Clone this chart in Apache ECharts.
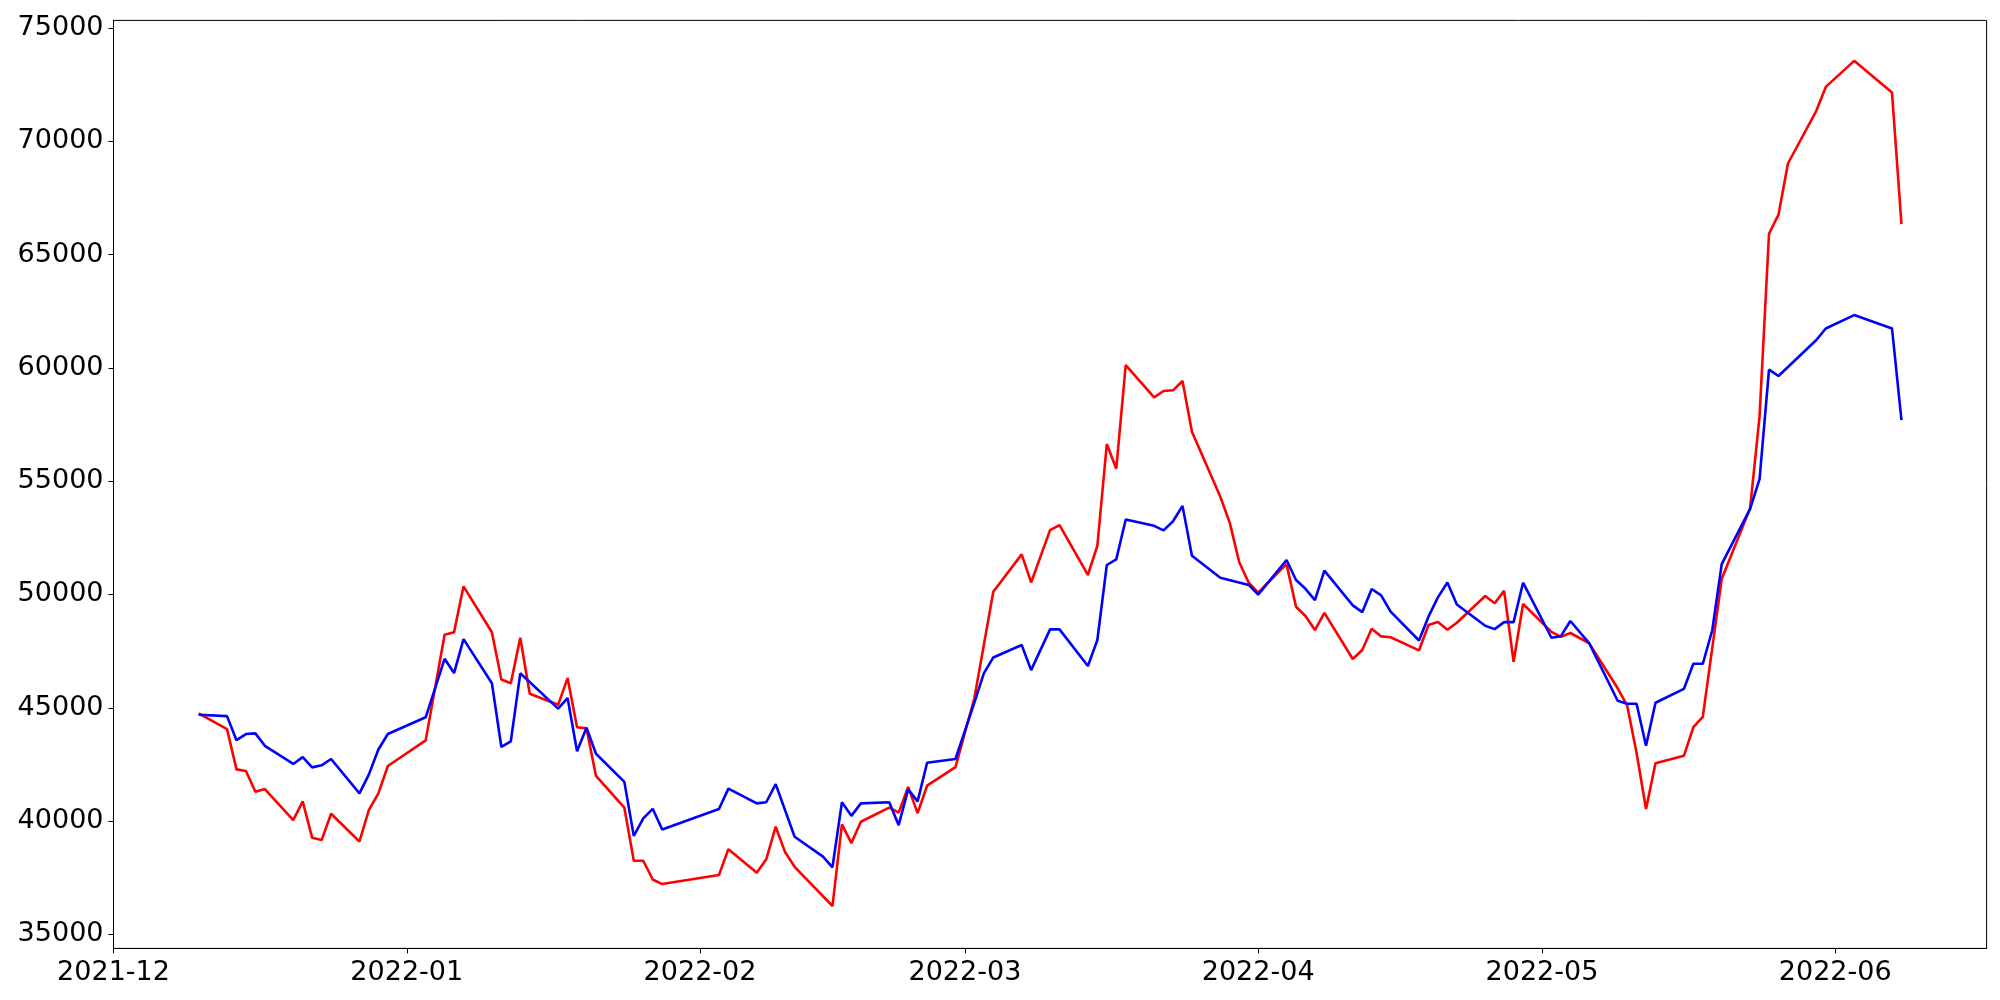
<!DOCTYPE html>
<html>
<head>
<meta charset="utf-8">
<script src="https://cdn.jsdelivr.net/npm/echarts@6/dist/echarts.min.js"></script>
<style>
  html, body { margin: 0; padding: 0; background: #fff; }
  #chart { width: 2000px; height: 1000px; }
</style>
</head>
<body>
<div id="chart"></div>
<script>
// ---- data ----
const dates = [
  '2021-12-10','2021-12-13','2021-12-14','2021-12-15','2021-12-16','2021-12-17','2021-12-20','2021-12-21','2021-12-22','2021-12-23','2021-12-24','2021-12-27','2021-12-28','2021-12-29','2021-12-30',
  '2022-01-03','2022-01-05','2022-01-06','2022-01-07','2022-01-10','2022-01-11','2022-01-12','2022-01-13','2022-01-14','2022-01-17','2022-01-18','2022-01-19','2022-01-20','2022-01-21','2022-01-24','2022-01-25','2022-01-26','2022-01-27','2022-01-28',
  '2022-02-03','2022-02-04','2022-02-07','2022-02-08','2022-02-09','2022-02-10','2022-02-11','2022-02-14','2022-02-15','2022-02-16','2022-02-17','2022-02-18','2022-02-21','2022-02-22','2022-02-23','2022-02-24','2022-02-25','2022-02-28',
  '2022-03-02','2022-03-03','2022-03-04','2022-03-07','2022-03-08','2022-03-10','2022-03-11','2022-03-14','2022-03-15','2022-03-16','2022-03-17','2022-03-18','2022-03-21','2022-03-22','2022-03-23','2022-03-24','2022-03-25','2022-03-28','2022-03-29','2022-03-30','2022-03-31',
  '2022-04-01','2022-04-04','2022-04-05','2022-04-06','2022-04-07','2022-04-08','2022-04-11','2022-04-12','2022-04-13','2022-04-14','2022-04-15','2022-04-18','2022-04-19','2022-04-20','2022-04-21','2022-04-22','2022-04-25','2022-04-26','2022-04-27','2022-04-28','2022-04-29',
  '2022-05-02','2022-05-03','2022-05-04','2022-05-06','2022-05-09','2022-05-10','2022-05-11','2022-05-12','2022-05-13','2022-05-16','2022-05-17','2022-05-18','2022-05-19','2022-05-20','2022-05-23','2022-05-24','2022-05-25','2022-05-26','2022-05-27','2022-05-30','2022-05-31',
  '2022-06-03','2022-06-07','2022-06-08'
];

const redValues = [
  44750, 44060, 42280, 42210, 41290, 41410, 40040, 40870, 39260, 39160, 40320, 39100, 40490, 41220, 42430,
  43560, 48220, 48330, 50360, 48330, 46250, 46080, 48090, 45620, 45130, 46310, 44140, 44090, 41990, 40590, 38250, 38250, 37420, 37220,
  37620, 38760, 37720, 38310, 39750, 38620, 37980, null, 36250, 39850, 39030, 39970, 40590, 40370, 41510, 40350, 41560, 42380,
  45420, null, 50120, 51770, 50530, 52840, 53060, 50860, 52150, 56640, 55550, 60120, 58700, 58980, 59010, 59420, 57180, 54310, 53160, 51420, 50520,
  50080, 51340, 49460, 49050, 48430, 49190, 47150, 47550, 48490, 48150, 48110, 47530, 48650, 48780, 48440, 48750, 49930, 49610, 50160, 47030, 49580,
  48350, 48130, 48300, 47840, 45860, 45110, 43000, 40530, 42550, 42880, 44140, 44600, null, 50680, 53800, 57870, 65920, 66760, 69020, 71345, 72400,
  73550, 72150, 66340
];

const blueValues = [
  44690, 44630, 43570, 43840, 43870, 43320, 42520, 42820, 42370, 42460, 42740, 41220, 42060, 43160, 43840,
  44580, 47160, 46530, 48030, 46080, 43270, 43520, 46520, null, 44960, 45430, 43080, 44120, 42970, 41730, 39340, 40120, 40540, 39630,
  40530, 41430, 40780, 40830, 41630, null, 39310, 38430, 37960, 40830, 40230, 40780, 40830, 39820, 41400, 40870, 42570, 42740,
  45230, 46520, 47220, 47770, 46660, 48460, 48460, 46840, 47990, 51300, 51550, 53310, 53030, 52830, 53230, 53910, 51710, 50740, null, null, 50420,
  49990, 51520, 50640, 50250, 49750, 51050, 49520, 49220, 50240, 49960, 49240, 47970, 49020, 49870, 50530, 49560, 48620, 48470, 48780, 48780, 50520,
  48090, 48160, 48830, 47840, 45310, 45180, 45180, 43320, 45220, 45830, 46940, 46940, 48420, 51340, 53780, 55090, 59920, 59640, null, 61230, 61740,
  62330, 61740, 57690
];

const yTickLabels = [35000, 40000, 45000, 50000, 55000, 60000, 65000, 70000, 75000];
const xTickLabels = ['2021-12-01','2022-01-01','2022-02-01','2022-03-01','2022-04-01','2022-05-01','2022-06-01'];
const xRange = ['2021-12-01', '2022-06-17'];
const yRange = [34380, 75335];

// ---- helpers ----
function toTime(s) {
  const p = s.split('-').map(Number);
  return Date.UTC(p[0], p[1] - 1, p[2]);
}
function pad(n) { return n < 10 ? '0' + n : '' + n; }

const redData = dates.map((d, i) => [toTime(d), redValues[i]]);
const blueData = dates.map((d, i) => [toTime(d), blueValues[i]]);
const xTicks = xTickLabels.map(toTime);

const font = 'DejaVu Sans';
const chart = echarts.init(document.getElementById('chart'), null, { renderer: 'canvas' });
chart.setOption({
  animation: false,
  backgroundColor: '#ffffff',
  grid: {
    left: 113.5, right: 13.4, top: 20.4, bottom: 51.6,
    show: true, borderColor: '#000', borderWidth: 1, backgroundColor: 'transparent'
  },
  xAxis: {
    type: 'value',
    min: toTime(xRange[0]),
    max: toTime(xRange[1]),
    splitLine: { show: false },
    axisLine: { show: true, onZero: false, lineStyle: { color: '#000', width: 1 } },
    axisTick: { show: true, length: 5, lineStyle: { color: '#000', width: 1 }, customValues: xTicks },
    minorTick: { show: false },
    axisLabel: {
      customValues: xTicks,
      color: '#000', fontFamily: font, fontSize: 27, margin: 11,
      showMinLabel: true, showMaxLabel: true,
      formatter: function (v) { const d = new Date(v); return d.getUTCFullYear() + '-' + pad(d.getUTCMonth() + 1); }
    }
  },
  yAxis: {
    type: 'value',
    min: yRange[0],
    max: yRange[1],
    splitLine: { show: false },
    axisLine: { show: true, onZero: false, lineStyle: { color: '#000', width: 1 } },
    axisTick: { show: true, length: 5, lineStyle: { color: '#000', width: 1 }, customValues: yTickLabels },
    axisLabel: {
      customValues: yTickLabels,
      color: '#000', fontFamily: font, fontSize: 27, margin: 10,
      formatter: function (v) { return String(v); }
    }
  },
  series: [
    {
      name: 'red', type: 'line', data: redData, connectNulls: true,
      showSymbol: false, symbol: 'none',
      lineStyle: { color: '#ff0000', width: 2.6 }, itemStyle: { color: '#ff0000' }
    },
    {
      name: 'blue', type: 'line', data: blueData, connectNulls: true,
      showSymbol: false, symbol: 'none',
      lineStyle: { color: '#0000ff', width: 2.6 }, itemStyle: { color: '#0000ff' }
    }
  ]
});
</script>
</body>
</html>
